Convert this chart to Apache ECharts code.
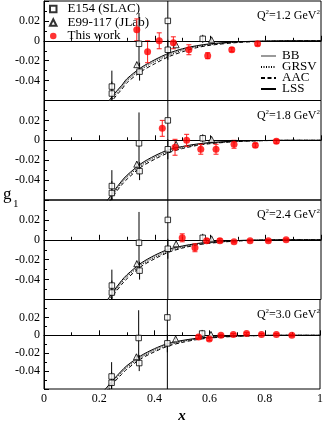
<!DOCTYPE html>
<html>
<head>
<meta charset="utf-8">
<script src="https://cdn.jsdelivr.net/npm/echarts@6/dist/echarts.min.js"></script>
<style>
  html, body { margin: 0; padding: 0; background: #fff; }
  #chart { width: 326px; height: 425px; }
</style>
</head>
<body>
<div id="chart"></div>
<script>
// panel labels (Q^2 in GeV^2)
const q2Values = ['1.2', '1.8', '2.4', '3.0']

// E154 (SLAC), same in every panel
const e154X = [0.245, 0.245, 0.343, 0.345, 0.447, 0.447, 0.573]
const e154Y = [-0.046, -0.053, -0.003, -0.031, 0.020, -0.009, 0.002]
const e154Err = [0.016, 0.012, 0.031, 0.009, 0.085, 0.010, 0.004]

// E99-117 (JLab)
const jlabX = [0.335, 0.477, 0.605]
const jlabY = [-0.024, -0.004, 0.001]
const jlabErr = [0.003, 0.002, 0.002]

// This work, one row per panel
const workX = [
  [0.335, 0.374, 0.416, 0.467, 0.523, 0.591, 0.678, 0.771],
  [0.427, 0.473, 0.515, 0.566, 0.621, 0.686, 0.763, 0.839],
  [0.499, 0.545, 0.587, 0.635, 0.686, 0.744, 0.810, 0.874],
  [0.560, 0.599, 0.641, 0.686, 0.734, 0.788, 0.842, 0.898]
]
const workY = [
  [0.011, -0.011, 0.000, -0.002, -0.009, -0.015, -0.009, -0.003],
  [0.012, -0.007, 0.000, -0.009, -0.009, -0.004, -0.005, -0.001],
  [0.002, -0.008, -0.001, -0.001, -0.002, -0.001, -0.001, 0.000],
  [-0.002, -0.004, 0.000, 0.001, 0.002, 0.001, 0.001, 0.000]
]
const workErr = [
  [0.011, 0.011, 0.008, 0.006, 0.005, 0.003, 0.002, 0.002],
  [0.008, 0.008, 0.006, 0.005, 0.005, 0.004, 0.002, 0.002],
  [0.004, 0.004, 0.002, 0.002, 0.001, 0.001, 0.001, 0.001],
  [0.002, 0.002, 0.001, 0.001, 0.001, 0.001, 0.001, 0.001]
]

// theory curves, sampled at curveX, one row per panel
const curveX = [0.20, 0.22, 0.25, 0.28, 0.30, 0.35, 0.40, 0.45, 0.50, 0.55, 0.60, 0.70, 0.80, 0.90, 1.00]
const lss = [
  [-0.074, -0.066, -0.0545, -0.045, -0.038, -0.027, -0.019, -0.0125, -0.008, -0.005, -0.003, -0.001, -0.0003, 0, 0],
  [-0.072, -0.064, -0.052, -0.041, -0.035, -0.0235, -0.0155, -0.0095, -0.0062, -0.0038, -0.0023, -0.0007, -0.0002, 0, 0],
  [-0.072, -0.064, -0.052, -0.041, -0.035, -0.0235, -0.0155, -0.0095, -0.0062, -0.0038, -0.0023, -0.0007, -0.0002, 0, 0],
  [-0.068, -0.061, -0.050, -0.040, -0.034, -0.023, -0.015, -0.009, -0.0058, -0.0035, -0.002, -0.0006, -0.0001, 0, 0]
]
const bb = [
  [-0.073, -0.067, -0.055, -0.0455, -0.039, -0.028, -0.020, -0.0135, -0.0088, -0.0055, -0.0034, -0.0011, -0.0003, 0, 0],
  [-0.071, -0.065, -0.053, -0.042, -0.036, -0.0245, -0.0165, -0.0105, -0.0068, -0.0042, -0.0026, -0.0008, -0.0002, 0, 0],
  [-0.071, -0.065, -0.053, -0.042, -0.036, -0.0245, -0.0165, -0.0105, -0.0068, -0.0042, -0.0026, -0.0008, -0.0002, 0, 0],
  [-0.067, -0.062, -0.051, -0.041, -0.035, -0.024, -0.016, -0.010, -0.0064, -0.0039, -0.0023, -0.0007, -0.0001, 0, 0]
]
const grsv = [
  [-0.077, -0.071, -0.057, -0.047, -0.040, -0.029, -0.021, -0.0145, -0.0095, -0.006, -0.0038, -0.0013, -0.0004, -0.0001, 0],
  [-0.075, -0.068, -0.054, -0.043, -0.037, -0.0255, -0.0175, -0.0115, -0.0075, -0.0047, -0.003, -0.001, -0.0003, 0, 0],
  [-0.075, -0.068, -0.054, -0.043, -0.037, -0.0255, -0.0175, -0.0115, -0.0075, -0.0047, -0.003, -0.001, -0.0003, 0, 0],
  [-0.071, -0.065, -0.052, -0.042, -0.036, -0.025, -0.017, -0.011, -0.007, -0.0044, -0.0027, -0.0009, -0.0002, 0, 0]
]
const aac = [
  [-0.080, -0.074, -0.059, -0.049, -0.042, -0.031, -0.023, -0.016, -0.011, -0.007, -0.0045, -0.0017, -0.0005, -0.0001, 0],
  [-0.078, -0.071, -0.056, -0.045, -0.039, -0.027, -0.019, -0.0125, -0.0083, -0.0053, -0.0034, -0.0012, -0.0003, 0, 0],
  [-0.078, -0.071, -0.056, -0.045, -0.039, -0.027, -0.019, -0.0125, -0.0083, -0.0053, -0.0034, -0.0012, -0.0003, 0, 0],
  [-0.074, -0.068, -0.054, -0.044, -0.038, -0.0265, -0.0185, -0.012, -0.008, -0.005, -0.0031, -0.0011, -0.0002, 0, 0]
]

const serif = 'Liberation Serif'
const panelTops = [1, 100.5, 200, 299.5]
const panelHeight = 99.5

const chart = echarts.init(document.getElementById('chart'))

function zip(xs, ys, es) {
  return xs.map((x, i) => es ? [x, ys[i], es[i]] : [x, ys[i]])
}

function errorBars(withCaps, color) {
  return function(params, api) {
    const x = api.value(0)
    const y = api.value(1)
    const e = api.value(2)
    const hi = api.coord([x, y + e])
    const lo = api.coord([x, y - e])
    const style = { stroke: color, lineWidth: 1 }
    const children = [{ type: 'line', shape: { x1: hi[0], y1: hi[1], x2: lo[0], y2: lo[1] }, style: style }]
    if (withCaps) {
      children.push({ type: 'line', shape: { x1: hi[0] - 2.5, y1: hi[1], x2: hi[0] + 2.5, y2: hi[1] }, style: style })
      children.push({ type: 'line', shape: { x1: lo[0] - 2.5, y1: lo[1], x2: lo[0] + 2.5, y2: lo[1] }, style: style })
    }
    return { type: 'group', children: children }
  }
}

const grids = []
const xAxes = []
const yAxes = []
const titles = []
const series = []

q2Values.forEach((q2, p) => {
  const last = p === q2Values.length - 1
  grids.push({
    left: 44,
    right: 5,
    top: panelTops[p],
    height: panelHeight,
    show: true,
    borderColor: '#000',
    borderWidth: 1
  })
  xAxes.push({
    gridIndex: p,
    type: 'value',
    min: 0,
    max: 1,
    interval: 0.2,
    name: last ? 'x' : '',
    nameLocation: 'middle',
    nameGap: 20,
    nameTextStyle: { fontFamily: serif, fontSize: 15, fontStyle: 'italic', fontWeight: 'bold', color: '#000' },
    axisLine: { lineStyle: { color: '#000', width: 1 } },
    axisTick: { inside: true, length: 5, lineStyle: { color: '#000' } },
    minorTick: { show: true, splitNumber: 2, length: 3, lineStyle: { color: '#000' } },
    splitLine: { show: false },
    axisLabel: {
      show: last,
      margin: 4,
      fontFamily: serif,
      fontSize: 12,
      color: '#000'
    }
  })
  yAxes.push({
    gridIndex: p,
    type: 'value',
    min: -0.06,
    max: 0.04,
    interval: 0.02,
    axisLine: { lineStyle: { color: '#000', width: 1 } },
    axisTick: { inside: true, length: 5, lineStyle: { color: '#000' } },
    minorTick: { show: true, splitNumber: 2, length: 3, lineStyle: { color: '#000' } },
    splitLine: { show: false },
    axisLabel: {
      margin: 4,
      fontFamily: serif,
      fontSize: 12,
      color: '#000',
      formatter: function(v) {
        const r = Math.round(v * 100) / 100
        if (r >= 0.04 || r <= -0.06) return ''
        return r === 0 ? '0' : r.toFixed(2)
      }
    }
  })
  titles.push({
    text: 'Q{s|2}=' + q2 + ' GeV{s|2}',
    right: 6,
    top: panelTops[p] + 8,
    padding: 0,
    textStyle: {
      fontFamily: serif,
      fontSize: 12,
      fontWeight: 'normal',
      color: '#000',
      lineHeight: 14,
      rich: {
        s: { fontFamily: serif, fontSize: 7, lineHeight: 7, verticalAlign: 'top', color: '#000' }
      }
    }
  })

  // theory curves (transparent itemStyle keeps the legend icon a bare line)
  const hidden = { color: 'rgba(0,0,0,0)', borderWidth: 0 }
  series.push({
    name: 'BB', type: 'line', xAxisIndex: p, yAxisIndex: p,
    data: zip(curveX, bb[p]), symbol: 'none', smooth: 0.3, z: 3, itemStyle: hidden,
    lineStyle: { color: '#9a9a9a', width: 0.8, type: 'solid' }
  })
  series.push({
    name: 'GRSV', type: 'line', xAxisIndex: p, yAxisIndex: p,
    data: zip(curveX, grsv[p]), symbol: 'none', smooth: 0.3, z: 3, itemStyle: hidden,
    lineStyle: { color: '#000', width: 1, type: [1, 1.5] }
  })
  series.push({
    name: 'AAC', type: 'line', xAxisIndex: p, yAxisIndex: p,
    data: zip(curveX, aac[p]), symbol: 'none', smooth: 0.3, z: 3, itemStyle: hidden,
    lineStyle: { color: '#000', width: 1, type: [4, 2.5] }
  })
  series.push({
    name: 'LSS', type: 'line', xAxisIndex: p, yAxisIndex: p,
    data: zip(curveX, lss[p]), symbol: 'none', smooth: 0.3, z: 3, itemStyle: hidden,
    lineStyle: { color: '#000', width: 1, type: 'solid' },
    markLine: {
      silent: true,
      symbol: 'none',
      label: { show: false },
      lineStyle: { color: '#000', width: 1, type: 'solid' },
      data: [{ yAxis: 0 }]
    }
  })

  // error bars
  series.push({
    type: 'custom', xAxisIndex: p, yAxisIndex: p, clip: true, z: 4,
    renderItem: errorBars(false, '#000'),
    data: zip(e154X, e154Y, e154Err)
  })
  series.push({
    type: 'custom', xAxisIndex: p, yAxisIndex: p, clip: true, z: 4,
    renderItem: errorBars(false, '#000'),
    data: zip(jlabX, jlabY, jlabErr)
  })
  series.push({
    type: 'custom', xAxisIndex: p, yAxisIndex: p, clip: true, z: 4,
    renderItem: errorBars(true, '#ff1a1a'),
    data: zip(workX[p], workY[p], workErr[p])
  })

  // markers
  series.push({
    name: 'E154 (SLAC)', type: 'scatter', xAxisIndex: p, yAxisIndex: p, z: 5,
    symbol: 'rect', symbolSize: 5.5,
    itemStyle: { color: '#fff', borderColor: '#000', borderWidth: 1 },
    data: zip(e154X, e154Y)
  })
  series.push({
    name: 'E99-117 (JLab)', type: 'scatter', xAxisIndex: p, yAxisIndex: p, z: 5,
    symbol: 'triangle', symbolSize: 6,
    itemStyle: { color: '#fff', borderColor: '#000', borderWidth: 1 },
    data: zip(jlabX, jlabY)
  })
  series.push({
    name: 'This work', type: 'scatter', xAxisIndex: p, yAxisIndex: p, z: 6,
    symbol: 'circle', symbolSize: 7,
    itemStyle: { color: '#ff0000' },
    data: zip(workX[p], workY[p])
  })
})

chart.setOption({
  animation: false,
  backgroundColor: '#fff',
  title: titles,
  grid: grids,
  xAxis: xAxes,
  yAxis: yAxes,
  legend: [
    {
      data: ['E154 (SLAC)', 'E99-117 (JLab)', 'This work'],
      orient: 'vertical',
      left: 49,
      top: 2.5,
      padding: 0,
      itemWidth: 6.5,
      itemHeight: 6.5,
      itemGap: 0.5,
      selectedMode: false,
      formatter: name => '{t|' + name + '}',
      textStyle: {
        color: '#000',
        rich: { t: { fontFamily: serif, fontSize: 13, lineHeight: 11, padding: [0, 0, 0, 6], color: '#000' } }
      }
    },
    {
      data: ['BB', 'GRSV', 'AAC', 'LSS'],
      orient: 'vertical',
      left: 260,
      top: 49.5,
      padding: 0,
      itemWidth: 15,
      itemHeight: 8,
      itemGap: -2,
      selectedMode: false,
      formatter: name => '{t|' + name + '}',
      textStyle: {
        color: '#000',
        rich: { t: { fontFamily: serif, fontSize: 13, lineHeight: 10, padding: [0, 0, 0, 1], color: '#000' } }
      }
    }
  ],
  graphic: [
    { type: 'text', left: 3, top: 186, style: { text: 'g', font: '17px "Liberation Serif"', fill: '#000' } },
    { type: 'text', left: 13, top: 199, style: { text: '1', font: '11px "Liberation Serif"', fill: '#000' } }
  ],
  series: series
})
</script>
</body>
</html>
